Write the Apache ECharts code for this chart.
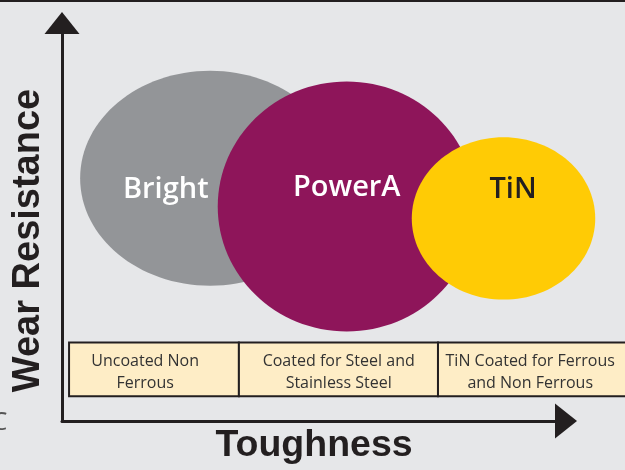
<!DOCTYPE html>
<html>
<head>
<meta charset="utf-8">
<script src="https://cdn.jsdelivr.net/npm/echarts@6/dist/echarts.min.js"></script>
<style>
  html, body { margin: 0; padding: 0; background: #e6e7e9; }
  #chart { width: 625px; height: 470px; }
</style>
</head>
<body>
<div id="chart"></div>
<script>
// 塗層名稱與位置（韌性 / 耐磨 皆為 0-100 的相對刻度）
const coatings = ['Bright', 'PowerA', 'TiN'];
const toughnessCenter = [29.4, 56.5, 87.6];
const wearCenter = [61, 53.9, 50.9];
const toughnessSpread = [25.8, 25.6, 18.2];
const wearSpread = [27, 31.4, 20.4];
const labelToughness = [20.6, 56.5, 89.5];
const labelWear = [58, 58.6, 58];

// 下方說明表格
const usageText = ['Uncoated Non\nFerrous', 'Coated for Steel and\nStainless Steel', 'TiN Coated for Ferrous\nand Non Ferrous'];
const cellStart = [1.4, 35.1, 74.6];
const cellEnd = [35.1, 74.6, 115];
const cellTextAt = [16.5, 54.9, 92.9];
const bandBottom = 6.25;
const bandTop = 19.75;
const bandText = 12.2;

const fills = ['#939598', '#8e155a', '#ffcb05'];
const labelColors = ['#ffffff', '#ffffff', '#231f20'];

const chart = echarts.init(document.getElementById('chart'), null, { renderer: 'canvas' });

const ellipseData = coatings.map((name, i) => ({
  name: name,
  value: [toughnessCenter[i], wearCenter[i], toughnessSpread[i], wearSpread[i], labelToughness[i], labelWear[i]],
}));

const cellData = usageText.map((txt, i) => ({
  name: txt,
  value: [cellStart[i], cellEnd[i], cellTextAt[i]],
}));

const axisCommon = {
  min: 0,
  max: 100,
  type: 'value',
  nameLocation: 'middle',
  nameMoveOverlap: false,
  axisTick: { show: false },
  axisLabel: { show: false },
  splitLine: { show: false },
  axisLine: {
    show: true,
    symbol: ['none', 'triangle'],
    symbolSize: [35, 22],
    lineStyle: { color: '#231f20', width: 3 },
  },
};

const option = {
  backgroundColor: '#e6e7e9',
  animation: false,
  grid: { left: 62, right: 59, top: 23, bottom: 47 },
  xAxis: Object.assign({}, axisCommon, {
    name: 'Toughness',
    nameGap: 6,
    nameTextStyle: {
      fontFamily: 'Liberation Sans',
      fontWeight: 'bold',
      fontSize: 37.5,
      color: '#231f20',
    },
  }),
  yAxis: Object.assign({}, axisCommon, {
    name: 'Wear Resistance',
    nameGap: 14,
    nameTextStyle: {
      fontFamily: 'Liberation Sans',
      fontWeight: 'bold',
      fontSize: 38,
      color: '#231f20',
      padding: [0, 37, 0, 0],
    },
  }),
  graphic: [
    {
      type: 'rect',
      shape: { x: 0, y: 0, width: 625, height: 2 },
      style: { fill: '#231f20' },
    },
    {
      type: 'text',
      x: -9,
      y: 410,
      style: { text: 'C', font: '26px "Open Sans"', fill: '#555555' },
    },
  ],
  series: [
    {
      type: 'custom',
      data: ellipseData,
      renderItem: function (params, api) {
        const i = params.dataIndex;
        const c = api.coord([api.value(0), api.value(1)]);
        const s = api.size([api.value(2), api.value(3)]);
        const t = api.coord([api.value(4), api.value(5)]);
        return {
          type: 'group',
          children: [
            {
              type: 'ellipse',
              shape: { cx: c[0], cy: c[1], rx: s[0], ry: s[1] },
              style: { fill: fills[i] },
            },
            {
              type: 'text',
              style: {
                text: coatings[i],
                x: t[0],
                y: t[1],
                align: 'center',
                verticalAlign: 'middle',
                font: '600 29px "Open Sans"',
                fill: labelColors[i],
              },
            },
          ],
        };
      },
    },
    {
      type: 'custom',
      data: cellData,
      renderItem: function (params, api) {
        const i = params.dataIndex;
        const p0 = api.coord([api.value(0), bandTop]);
        const p1 = api.coord([api.value(1), bandBottom]);
        const t = api.coord([api.value(2), bandText]);
        return {
          type: 'group',
          children: [
            {
              type: 'rect',
              shape: { x: p0[0], y: p0[1], width: p1[0] - p0[0], height: p1[1] - p0[1] },
              style: { fill: '#feedc6', stroke: '#231f20', lineWidth: 2 },
            },
            {
              type: 'text',
              style: {
                text: usageText[i],
                x: t[0],
                y: t[1],
                align: 'center',
                verticalAlign: 'middle',
                lineHeight: 22,
                font: '16px "Open Sans"',
                fill: '#333333',
              },
            },
          ],
        };
      },
    },
  ],
};

chart.setOption(option);
</script>
</body>
</html>
